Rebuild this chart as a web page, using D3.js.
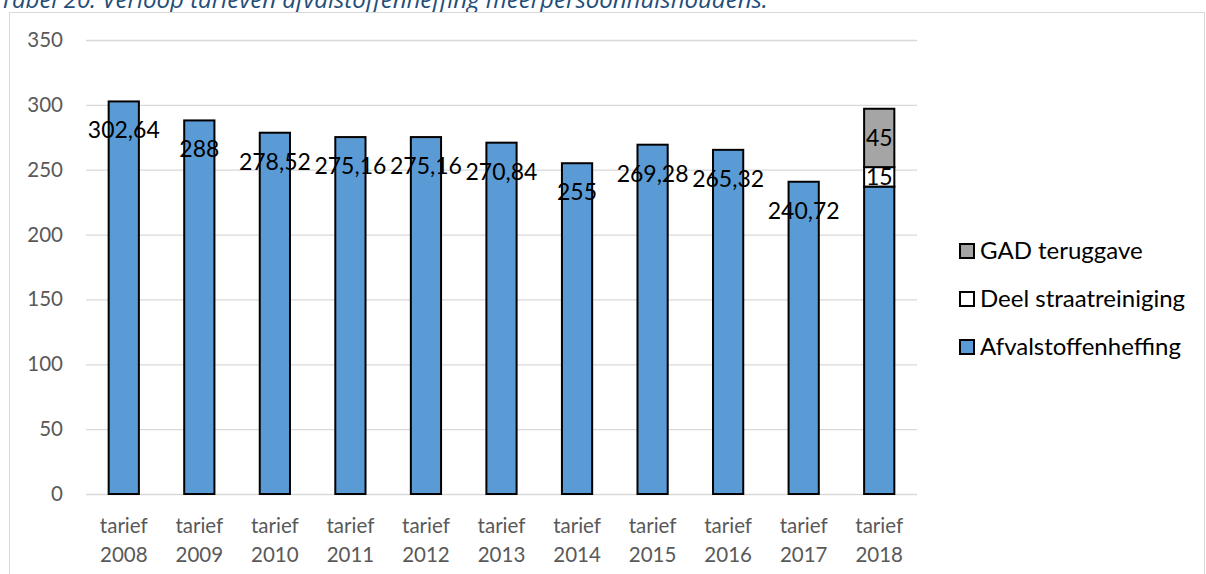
<!DOCTYPE html>
<html>
<head>
<meta charset="utf-8">
<script src="https://cdn.jsdelivr.net/npm/d3@7/dist/d3.min.js"></script>
<style>
  html, body { margin: 0; padding: 0; background: #fff; }
  svg { display: block; }
</style>
</head>
<body>
<svg id="chart" width="1206" height="574"></svg>
<script>
// Tariffs per year (euro), multi-person households
const years = ["2008", "2009", "2010", "2011", "2012", "2013", "2014", "2015", "2016", "2017", "2018"];
const afvalstoffenheffing = [302.64, 288, 278.52, 275.16, 275.16, 270.84, 255, 269.28, 265.32, 240.72, 237];
const deelStraatreiniging = [0, 0, 0, 0, 0, 0, 0, 0, 0, 0, 15];
const gadTeruggave = [0, 0, 0, 0, 0, 0, 0, 0, 0, 0, 45];
const afvalLabelShown = [true, true, true, true, true, true, true, true, true, true, false];
const yTicks = [0, 50, 100, 150, 200, 250, 300, 350];
const seriesNames = ["Afvalstoffenheffing", "Deel straatreiniging", "GAD teruggave"];
const seriesColors = ["#5B9BD5", "#FFFFFF", "#A5A5A5"];
const titleText = "Tabel 20: Verloop tarieven afvalstoffenheffing meerpersoonhuishoudens.";

const svg = d3.select("#chart");
const FONT = "Lato, 'Open Sans', sans-serif";

const rows = years.map((y, i) => ({
  year: y,
  Afvalstoffenheffing: afvalstoffenheffing[i],
  "Deel straatreiniging": deelStraatreiniging[i],
  "GAD teruggave": gadTeruggave[i]
}));

const x = d3.scaleBand().domain(years).range([86, 917]).paddingInner(0.6).paddingOuter(0.3);
const y = d3.scaleLinear().domain([0, 350]).range([494, 40]);

// caption above the chart frame
svg.append("text")
  .attr("x", 0).attr("y", 8)
  .attr("font-family", "'Open Sans', sans-serif")
  .attr("font-style", "italic")
  .attr("font-size", 24)
  .attr("fill", "#1F4E79")
  .text(titleText);

// chart frame
svg.append("rect")
  .attr("x", 9.5).attr("y", 12.5)
  .attr("width", 1195).attr("height", 600)
  .attr("fill", "#fff").attr("stroke", "#D9D9D9").attr("stroke-width", 1);

// gridlines + y labels
const yAxis = d3.axisLeft(y).tickValues(yTicks).tickSize(-(917 - 86)).tickPadding(23);
const gy = svg.append("g").attr("transform", "translate(86,0)").call(yAxis);
gy.select(".domain").remove();
gy.selectAll(".tick line").attr("stroke", "#D9D9D9").attr("stroke-width", 1.3);
gy.selectAll(".tick text")
  .attr("font-family", FONT).attr("font-size", 20.5).attr("fill", "#595959");

// x category labels (two lines)
const xAxis = d3.axisBottom(x).tickSize(0).tickFormat(() => "");
const gx = svg.append("g").attr("transform", `translate(0,${y(0)})`).call(xAxis);
gx.select(".domain").remove();
gx.selectAll(".tick").each(function(d) {
  const t = d3.select(this).append("text")
    .attr("text-anchor", "middle")
    .attr("font-family", FONT).attr("font-size", 20.5).attr("fill", "#595959");
  t.append("tspan").attr("x", 0).attr("y", 39).text("tarief");
  t.append("tspan").attr("x", 0).attr("y", 68).text(d);
});

// stacked bars
const stacked = d3.stack().keys(seriesNames)(rows);
const layers = svg.append("g").selectAll("g")
  .data(stacked).join("g")
  .attr("fill", (d, i) => seriesColors[i]);

layers.selectAll("rect")
  .data(d => d.filter(s => s[1] - s[0] > 0))
  .join("rect")
  .attr("x", d => x(d.data.year))
  .attr("width", x.bandwidth())
  .attr("y", d => y(d[1]))
  .attr("height", d => y(d[0]) - y(d[1]))
  .attr("stroke", "#000").attr("stroke-width", 2);

// value labels
const fmt = v => String(v).replace(".", ",");
const labels = svg.append("g")
  .attr("font-family", FONT).attr("font-size", 23).attr("fill", "#000")
  .attr("text-anchor", "middle");

// Afvalstoffenheffing labels sit just inside the top of the bar
labels.selectAll("text.afval")
  .data(rows.filter((r, i) => afvalLabelShown[i]))
  .join("text").attr("class", "afval")
  .attr("x", d => x(d.year) + x.bandwidth() / 2)
  .attr("y", d => y(d.Afvalstoffenheffing) + 37)
  .text(d => fmt(d.Afvalstoffenheffing));

// the extra segments are labelled in their centre
[1, 2].forEach(k => {
  labels.selectAll(`text.s${k}`)
    .data(stacked[k].filter(s => s[1] - s[0] > 0))
    .join("text").attr("class", `s${k}`)
    .attr("x", d => x(d.data.year) + x.bandwidth() / 2)
    .attr("y", d => (y(d[0]) + y(d[1])) / 2)
    .attr("dy", "0.36em")
    .text(d => fmt(d[1] - d[0]));
});

// legend (top entry = top of stack)
const legendItems = seriesNames.map((n, i) => ({ name: n, color: seriesColors[i] })).reverse();
const lg = svg.append("g").selectAll("g")
  .data(legendItems).join("g")
  .attr("transform", (d, i) => `translate(960,${251 + i * 48})`);
lg.append("rect")
  .attr("x", 0).attr("y", -7).attr("width", 14).attr("height", 14)
  .attr("fill", d => d.color).attr("stroke", "#000").attr("stroke-width", 2);
lg.append("text")
  .attr("x", 20).attr("dy", "0.35em")
  .attr("font-family", FONT).attr("font-size", 24).attr("fill", "#000")
  .text(d => d.name);
</script>
</body>
</html>
